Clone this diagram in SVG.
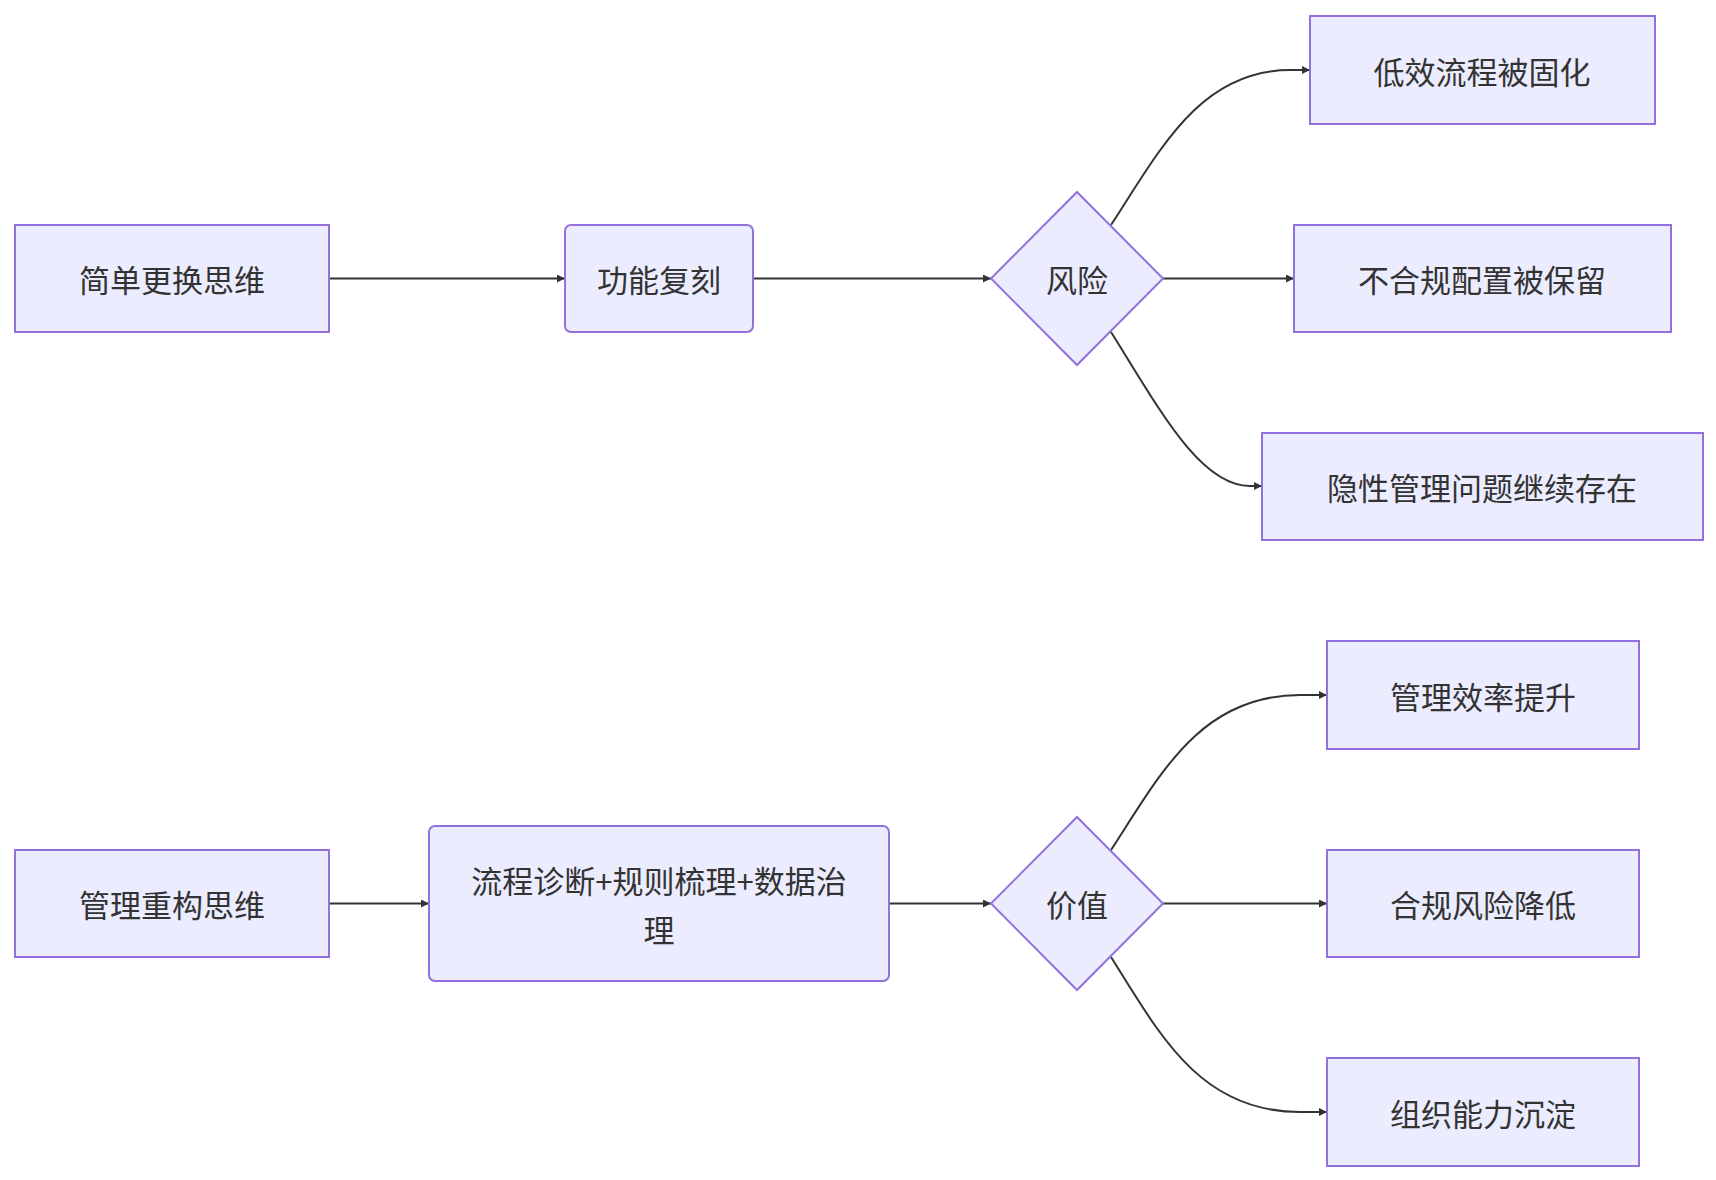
<svg xmlns="http://www.w3.org/2000/svg" width="1716" height="1180" viewBox="0 0 1716 1180">
<style>
.n{fill:#ECECFF;stroke:#9370DB;stroke-width:2}
.t{font-family:"Noto Sans CJK SC","Liberation Sans",sans-serif;font-size:31px;fill:#333;text-anchor:middle;dominant-baseline:central}
.e{fill:none;stroke:#333;stroke-width:2;marker-end:url(#a)}
</style>
<defs><marker id="a" viewBox="0 0 10 10" refX="10" refY="5" markerWidth="8" markerHeight="8" orient="auto" markerUnits="userSpaceOnUse" ><path d="M0,0L10,5L0,10z" fill="#333"/></marker></defs>
<rect width="1716" height="1180" fill="#fff"/>
<g id="edges">
<path class="e" d="M329,278.5H565"/>
<path class="e" d="M753,278.5H991"/>
<path class="e" d="M1111,225C1160,150 1200,70 1290,70H1310"/>
<path class="e" d="M1162,278.5H1294"/>
<path class="e" d="M1111,332C1160,410 1200,486 1250,486H1262"/>
<path class="e" d="M329,903.5H429"/>
<path class="e" d="M889,903.5H991"/>
<path class="e" d="M1111,850C1160,775 1200,695 1300,695H1327"/>
<path class="e" d="M1162,903.5H1327"/>
<path class="e" d="M1111,957C1160,1035 1200,1112 1300,1112H1327"/>
</g>
<g id="A"><rect class="n" x="15" y="225" width="314" height="107"/><text class="t" x="172" y="278.5">简单更换思维</text></g>
<g id="B"><rect class="n" x="565" y="225" width="188" height="107" rx="6"/><text class="t" x="659" y="278.5">功能复刻</text></g>
<g id="C"><path class="n" d="M1077,192L1163,278.5L1077,365L991,278.5Z"/><text class="t" x="1077" y="278.5">风险</text></g>
<g id="D"><rect class="n" x="1310" y="16" width="345" height="108"/><text class="t" x="1482" y="70">低效流程被固化</text></g>
<g id="E"><rect class="n" x="1294" y="225" width="377" height="107"/><text class="t" x="1482" y="278.5">不合规配置被保留</text></g>
<g id="F"><rect class="n" x="1262" y="433" width="441" height="107"/><text class="t" x="1482" y="486">隐性管理问题继续存在</text></g>
<g id="G"><rect class="n" x="15" y="850" width="314" height="107"/><text class="t" x="172" y="903.5">管理重构思维</text></g>
<g id="H"><rect class="n" x="429" y="826" width="460" height="155" rx="6"/><text class="t" x="659" y="879">流程诊断+规则梳理+数据治</text><text class="t" x="659" y="928">理</text></g>
<g id="I"><path class="n" d="M1077,817L1163,903.5L1077,990L991,903.5Z"/><text class="t" x="1077" y="903.5">价值</text></g>
<g id="J"><rect class="n" x="1327" y="641" width="312" height="108"/><text class="t" x="1483" y="695">管理效率提升</text></g>
<g id="K"><rect class="n" x="1327" y="850" width="312" height="107"/><text class="t" x="1483" y="903.5">合规风险降低</text></g>
<g id="L"><rect class="n" x="1327" y="1058" width="312" height="108"/><text class="t" x="1483" y="1112">组织能力沉淀</text></g>
</svg>
